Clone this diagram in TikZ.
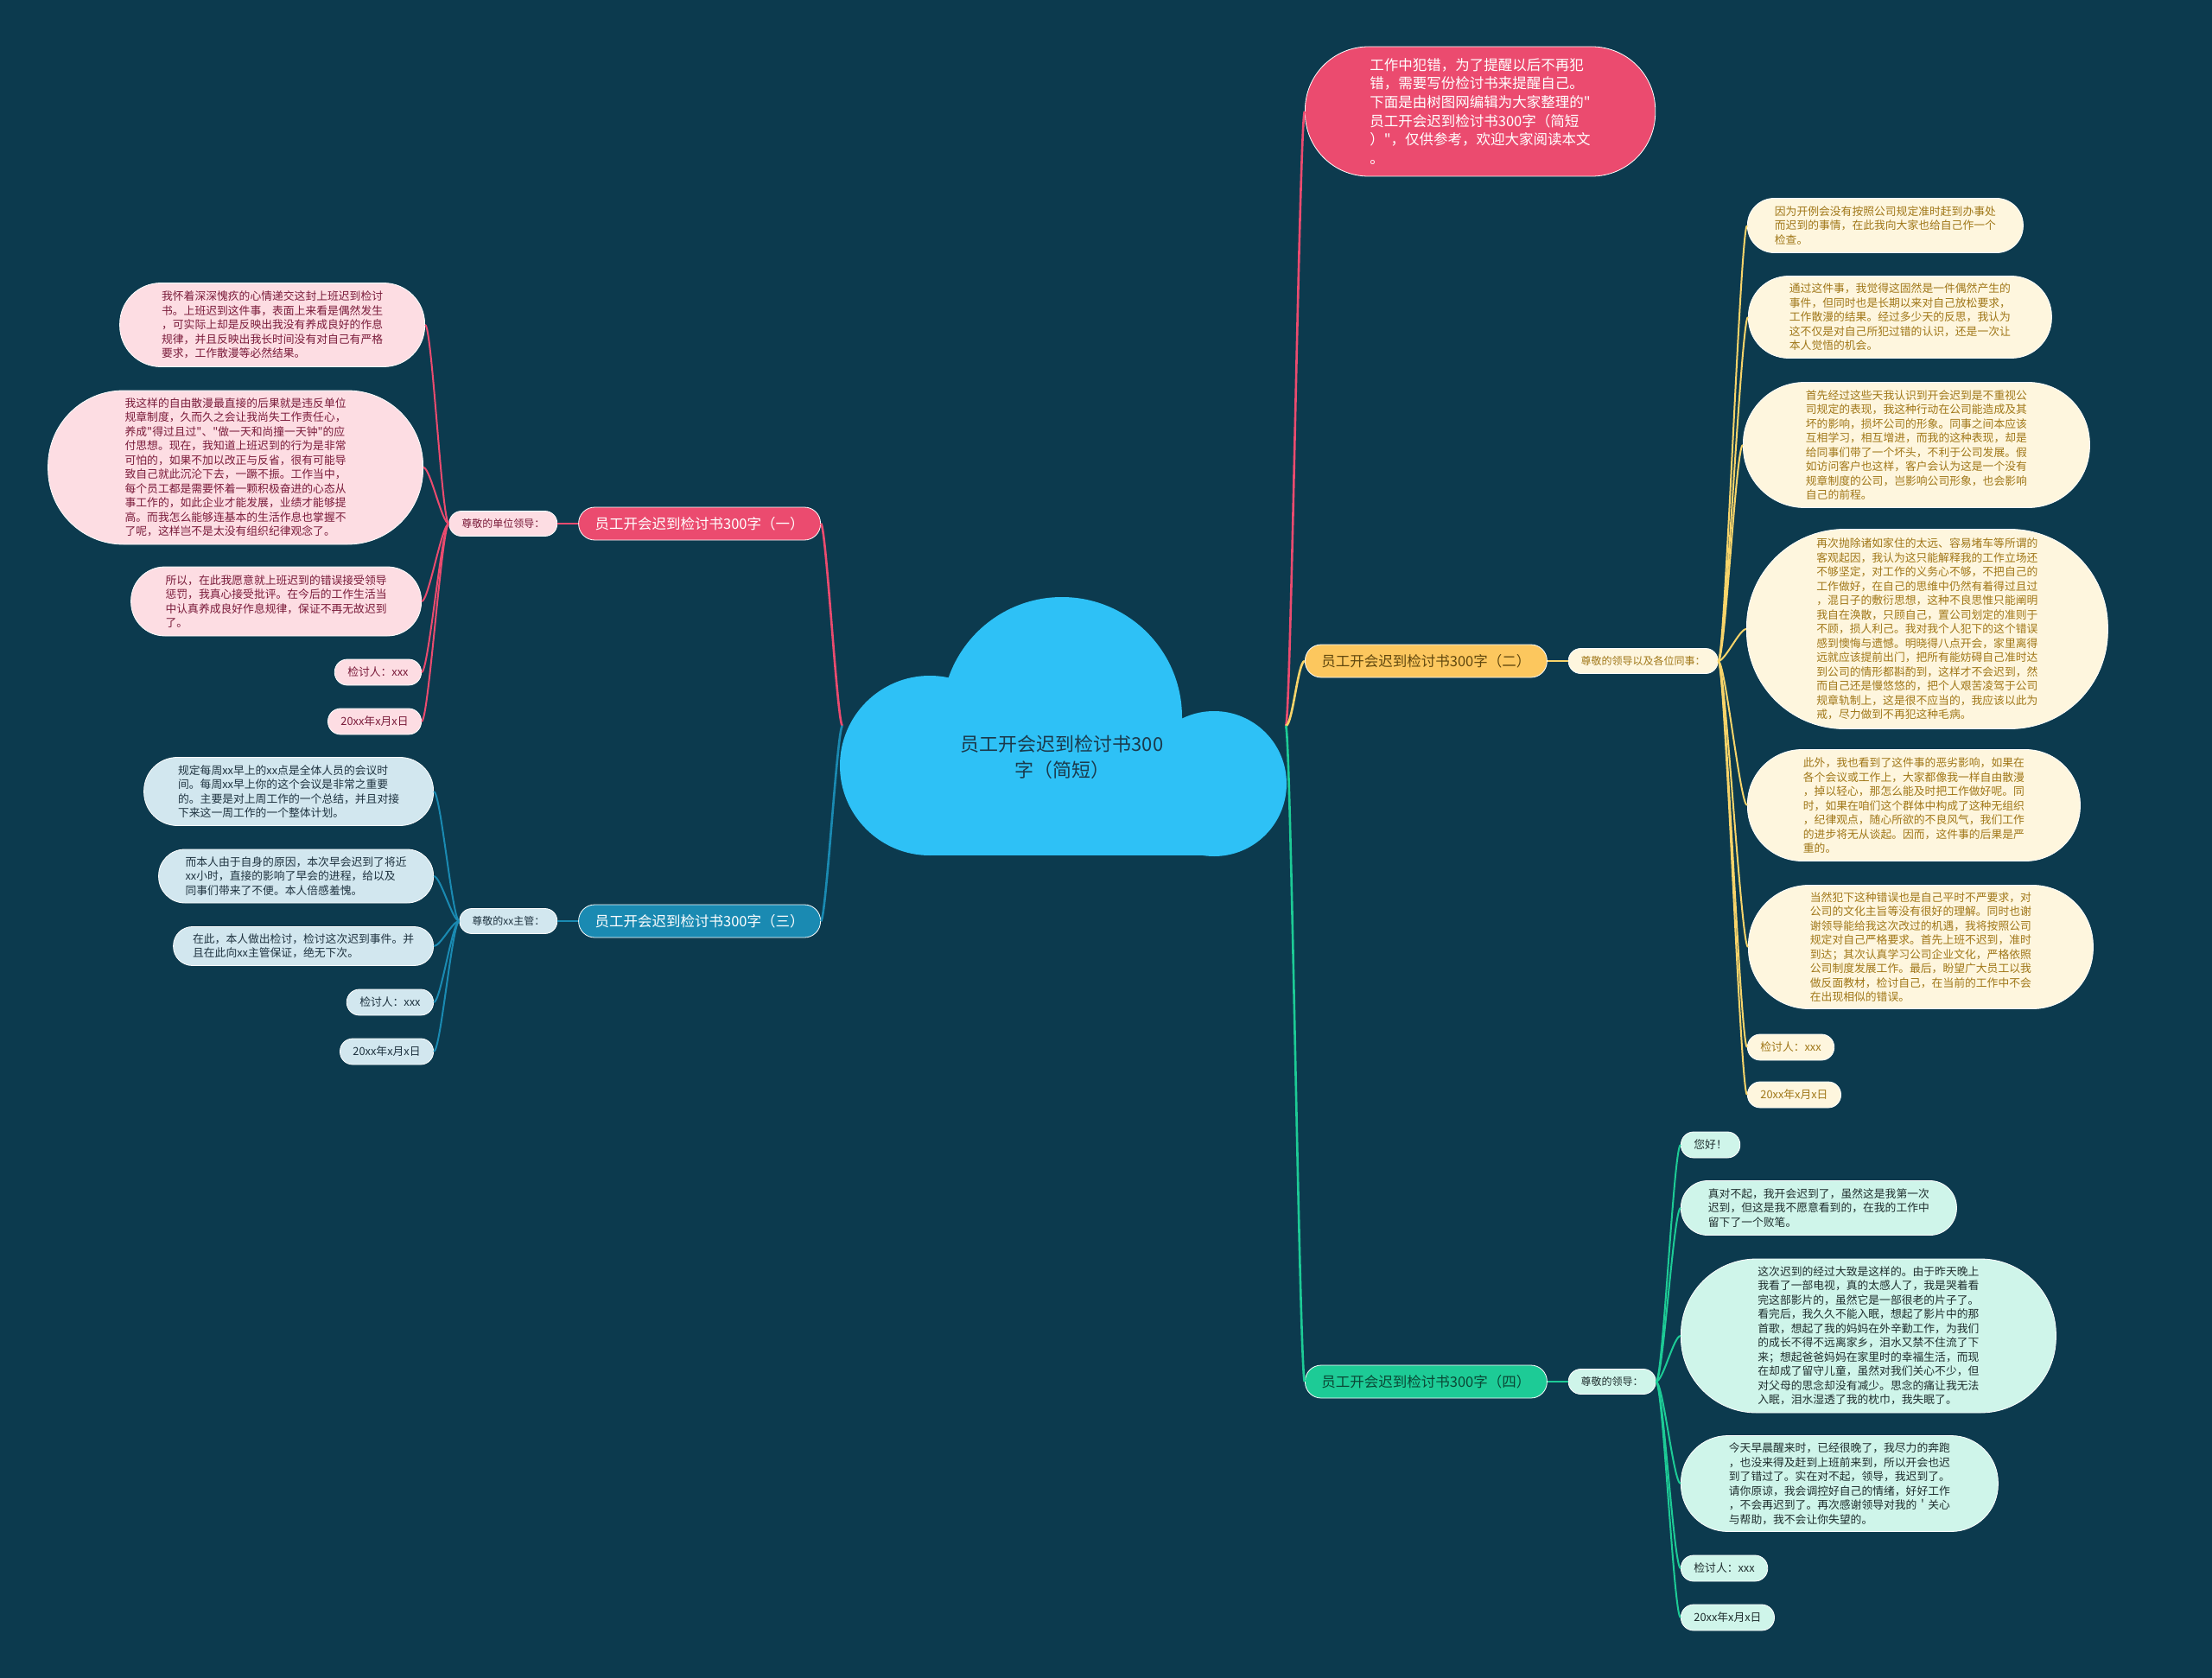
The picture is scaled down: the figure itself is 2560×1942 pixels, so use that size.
\documentclass[tikz,border=0pt]{standalone}
\usepackage{fontspec}
\setmainfont{Noto Sans CJK SC}[Ligatures=TeXOff]
\usepackage{tikz}
\usetikzlibrary{positioning}
\definecolor{mapbg}{HTML}{0C3A4E}
\definecolor{cloudblue}{HTML}{2EC1F6}
\definecolor{cloudink}{HTML}{1B3A4C}
\definecolor{mapred}{HTML}{EB4B6F}
\definecolor{pinkfill}{HTML}{FDDDE3}
\definecolor{pinkink}{HTML}{7A1B3A}
\definecolor{mapblue}{HTML}{1A8AB2}
\definecolor{bluefill}{HTML}{D2E7EF}
\definecolor{blueink}{HTML}{1F3340}
\definecolor{mapyellow}{HTML}{FCC75E}
\definecolor{yellowline}{HTML}{F8D46A}
\definecolor{yellowfill}{HTML}{FEF6DE}
\definecolor{yellowink}{HTML}{A07718}
\definecolor{mapgreen}{HTML}{1DCB96}
\definecolor{greenfill}{HTML}{CFF5EA}
\definecolor{greenink}{HTML}{1F2E2E}
\newcommand\leafsize{\fontsize{12.8pt}{16.5pt}\selectfont}
\newcommand\subsize{\fontsize{12pt}{15pt}\selectfont}
\newcommand\branchsize{\fontsize{16.5pt}{19pt}\selectfont}
\newcommand\introsize{\fontsize{16.5pt}{21.7pt}\selectfont}
\newcommand\rootsize{\fontsize{22pt}{30pt}\selectfont}

\begin{document}
\begin{tikzpicture}[
    x=1pt, y=-1pt,
    node distance=24pt,
    pill/.style={rectangle, draw=white, line width=0.8pt, minimum height=#1, rounded corners=0.49*#1, inner xsep=0.5*#1, inner ysep=2pt},
    leaf/.style={pill=#1, align=left, font=\leafsize},
    leaf/.default=30pt,
    pinkleaf/.style={leaf=#1, fill=pinkfill, text=pinkink, anchor=east},
    pinkleaf/.default=30pt,
    blueleaf/.style={leaf=#1, fill=bluefill, text=blueink, anchor=east},
    blueleaf/.default=30pt,
    yellowleaf/.style={leaf=#1, fill=yellowfill, text=yellowink, anchor=west},
    yellowleaf/.default=30pt,
    greenleaf/.style={leaf=#1, fill=greenfill, text=greenink, anchor=west},
    greenleaf/.default=30pt,
    branch/.style={pill=38pt, font=\branchsize},
    sublabel/.style={pill=29pt, font=\subsize},
    intro/.style={pill=150pt, fill=mapred, text=white, align=left, font=\introsize},
    mainlink/.style={line width=2.6pt},
    link/.style={line width=2pt}
]

% Background and frame
\fill[mapbg] (0,0) rectangle (2560,1942);
\useasboundingbox (0,0) rectangle (2560,1942);

% Cloud
\fill[cloudblue] (1076,886) circle[radius=104pt];
\fill[cloudblue] (1229,830) circle[radius=139pt];
\fill[cloudblue] (1405,907) circle[radius=84pt];
\fill[cloudblue] (1076,850) rectangle (1405,990);
\node[text=cloudink, align=center, font=\rootsize] (root) at (1229,876) {员工开会迟到检讨书300\\字（简短）};
\coordinate (root-w) at (975,840);
\coordinate (root-e) at (1488,840);

% Intro
\node[intro, anchor=west] (intro) at (1510,129) {工作中犯错，为了提醒以后不再犯\\错，需要写份检讨书来提醒自己。\\下面是由树图网编辑为大家整理的"\\员工开会迟到检讨书300字（简短\\）"，仅供参考，欢迎大家阅读本文\\。};

% Branches
\node[branch, fill=mapred, text=white, anchor=east] (one) at (950,606) {员工开会迟到检讨书300字（一）};
\node[branch, fill=mapblue, text=white, anchor=east] (three) at (950,1066) {员工开会迟到检讨书300字（三）};
\node[branch, fill=mapyellow, text=yellowink!60!black, anchor=west] (two) at (1510,765) {员工开会迟到检讨书300字（二）};
\node[branch, fill=mapgreen, text=mapgreen!35!black, anchor=west] (four) at (1510,1599) {员工开会迟到检讨书300字（四）};

\node[sublabel, fill=pinkfill, text=pinkink, left=of one] (sone) {尊敬的单位领导：};
\node[sublabel, fill=bluefill, text=blueink, left=of three] (sthree) {尊敬的xx主管：};
\node[sublabel, fill=yellowfill, text=yellowink, right=of two] (stwo) {尊敬的领导以及各位同事：};
\node[sublabel, fill=greenfill, text=greenink, right=of four] (sfour) {尊敬的领导：};

% Leaves (一)
\node[pinkleaf=97pt] (p1) at (492,376) {我怀着深深愧疚的心情递交这封上班迟到检讨\\书。上班迟到这件事，表面上来看是偶然发生\\，可实际上却是反映出我没有养成良好的作息\\规律，并且反映出我长时间没有对自己有严格\\要求，工作散漫等必然结果。};
\node[pinkleaf=178pt] (p2) at (490,541) {我这样的自由散漫最直接的后果就是违反单位\\规章制度，久而久之会让我尚失工作责任心，\\养成"得过且过"、"做一天和尚撞一天钟"的应\\付思想。现在，我知道上班迟到的行为是非常\\可怕的，如果不加以改正与反省，很有可能导\\致自己就此沉沦下去，一蹶不振。工作当中，\\每个员工都是需要怀着一颗积极奋进的心态从\\事工作的，如此企业才能发展，业绩才能够提\\高。而我怎么能够连基本的生活作息也掌握不\\了呢，这样岂不是太没有组织纪律观念了。};
\node[pinkleaf=80pt] (p3) at (488,696) {所以，在此我愿意就上班迟到的错误接受领导\\惩罚，我真心接受批评。在今后的工作生活当\\中认真养成良好作息规律，保证不再无故迟到\\了。};
\node[pinkleaf] (p4) at (488,778) {检讨人：xxx};
\node[pinkleaf] (p5) at (488,835) {20xx年x月x日};

% Leaves (三)
\node[blueleaf=79pt] (b1) at (502,916) {规定每周xx早上的xx点是全体人员的会议时\\间。每周xx早上你的这个会议是非常之重要\\的。主要是对上周工作的一个总结，并且对接\\下来这一周工作的一个整体计划。};
\node[blueleaf=62pt] (b2) at (502,1014) {而本人由于自身的原因，本次早会迟到了将近\\xx小时，直接的影响了早会的进程，给以及\\同事们带来了不便。本人倍感羞愧。};
\node[blueleaf=45pt] (b3) at (502,1095) {在此，本人做出检讨，检讨这次迟到事件。并\\且在此向xx主管保证，绝无下次。};
\node[blueleaf] (b4) at (502,1160) {检讨人：xxx};
\node[blueleaf] (b5) at (502,1217) {20xx年x月x日};

% Leaves (二)
\node[yellowleaf=63pt] (y1) at (2022,261) {因为开例会没有按照公司规定准时赶到办事处\\而迟到的事情，在此我向大家也给自己作一个\\检查。};
\node[yellowleaf=95pt] (y2) at (2023,367) {通过这件事，我觉得这固然是一件偶然产生的\\事件，但同时也是长期以来对自己放松要求，\\工作散漫的结果。经过多少天的反思，我认为\\这不仅是对自己所犯过错的认识，还是一次让\\本人觉悟的机会。};
\node[yellowleaf=145pt] (y3) at (2017,515) {首先经过这些天我认识到开会迟到是不重视公\\司规定的表现，我这种行动在公司能造成及其\\坏的影响，损坏公司的形象。同事之间本应该\\互相学习，相互增进，而我的这种表现，却是\\给同事们带了一个坏头，不利于公司发展。假\\如访问客户也这样，客户会认为这是一个没有\\规章制度的公司，岂影响公司形象，也会影响\\自己的前程。};
\node[yellowleaf=231pt, inner xsep=81pt] (y4) at (2021,728) {再次抛除诸如家住的太远、容易堵车等所谓的\\客观起因，我认为这只能解释我的工作立场还\\不够坚定，对工作的义务心不够，不把自己的\\工作做好，在自己的思维中仍然有着得过且过\\，混日子的敷衍思想，这种不良思惟只能阐明\\我自在涣散，只顾自己，置公司划定的准则于\\不顾，损人利己。我对我个人犯下的这个错误\\感到懊悔与遗憾。明晓得八点开会，家里离得\\远就应该提前出门，把所有能妨碍自己准时达\\到公司的情形都斟酌到，这样才不会迟到，然\\而自己还是慢悠悠的，把个人艰苦凌驾于公司\\规章轨制上，这是很不应当的，我应该以此为\\戒，尽力做到不再犯这种毛病。};
\node[yellowleaf=129pt] (y5) at (2022,932) {此外，我也看到了这件事的恶劣影响，如果在\\各个会议或工作上，大家都像我一样自由散漫\\，掉以轻心，那怎么能及时把工作做好呢。同\\时，如果在咱们这个群体中构成了这种无组织\\，纪律观点，随心所欲的不良风气，我们工作\\的进步将无从谈起。因而，这件事的后果是严\\重的。};
\node[yellowleaf=143pt] (y6) at (2023,1096) {当然犯下这种错误也是自己平时不严要求，对\\公司的文化主旨等没有很好的理解。同时也谢\\谢领导能给我这次改过的机遇，我将按照公司\\规定对自己严格要求。首先上班不迟到，准时\\到达；其次认真学习公司企业文化，严格依照\\公司制度发展工作。最后，盼望广大员工以我\\做反面教材，检讨自己，在当前的工作中不会\\在出现相似的错误。};
\node[yellowleaf] (y7) at (2022,1212) {检讨人：xxx};
\node[yellowleaf] (y8) at (2022,1267) {20xx年x月x日};

% Leaves (四)
\node[greenleaf] (g1) at (1945,1325) {您好！};
\node[greenleaf=63pt] (g2) at (1945,1398) {真对不起，我开会迟到了，虽然这是我第一次\\迟到，但这是我不愿意看到的，在我的工作中\\留下了一个败笔。};
\node[greenleaf=178pt] (g3) at (1945,1546) {这次迟到的经过大致是这样的。由于昨天晚上\\我看了一部电视，真的太感人了，我是哭着看\\完这部影片的，虽然它是一部很老的片子了。\\看完后，我久久不能入眠，想起了影片中的那\\首歌，想起了我的妈妈在外辛勤工作，为我们\\的成长不得不远离家乡，泪水又禁不住流了下\\来；想起爸爸妈妈在家里时的幸福生活，而现\\在却成了留守儿童，虽然对我们关心不少，但\\对父母的思念却没有减少。思念的痛让我无法\\入眠，泪水湿透了我的枕巾，我失眠了。};
\node[greenleaf=111pt] (g4) at (1945,1717) {今天早晨醒来时，已经很晚了，我尽力的奔跑\\，也没来得及赶到上班前来到，所以开会也迟\\到了错过了。实在对不起，领导，我迟到了。\\请你原谅，我会调控好自己的情绪，好好工作\\，不会再迟到了。再次感谢领导对我的＇关心\\与帮助，我不会让你失望的。};
\node[greenleaf] (g5) at (1945,1815) {检讨人：xxx};
\node[greenleaf] (g6) at (1945,1872) {20xx年x月x日};

% Main links
\draw[mainlink, mapred] (root-e) .. controls +(6,0) and +(-6,0) .. (intro.west);
\draw[mainlink, yellowline] (root-e) .. controls +(8,0) and +(-8,0) .. (two.west);
\draw[mainlink, mapgreen] (root-e) .. controls +(6,0) and +(-6,0) .. (four.west);
\draw[mainlink, mapred] (root-w) .. controls +(-6,0) and +(6,0) .. (one.east);
\draw[mainlink, mapblue] (root-w) .. controls +(-6,0) and +(6,0) .. (three.east);

\draw[link, mapred] (one) -- (sone);
\draw[link, mapblue] (three) -- (sthree);
\draw[link, yellowline] (two) -- (stwo);
\draw[link, mapgreen] (four) -- (sfour);

% Leaf links
\foreach \n in {p1,p2,p3,p4,p5}
  \draw[link, mapred] (sone.west) .. controls +(-8,0) and +(8,0) .. (\n.east);
\foreach \n in {b1,b2,b3,b4,b5}
  \draw[link, mapblue] (sthree.west) .. controls +(-8,0) and +(8,0) .. (\n.east);
\foreach \n in {y1,y2,y3,y4,y5,y6,y7,y8}
  \draw[link, yellowline] (stwo.east) .. controls +(8,0) and +(-8,0) .. (\n.west);
\foreach \n in {g1,g2,g3,g4,g5,g6}
  \draw[link, mapgreen] (sfour.east) .. controls +(8,0) and +(-8,0) .. (\n.west);

\end{tikzpicture}
\end{document}
